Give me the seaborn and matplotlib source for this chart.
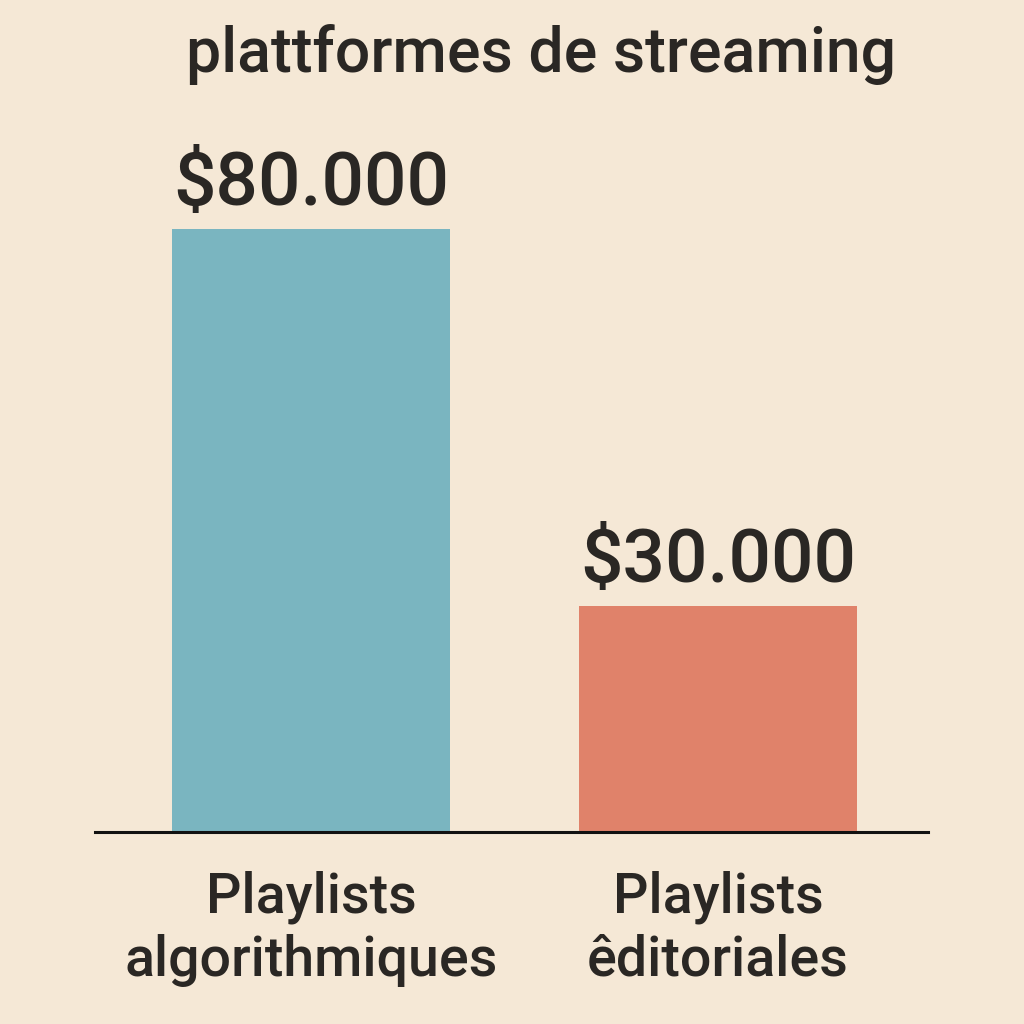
import pandas as pd
import seaborn as sns
import matplotlib.pyplot as plt

categories = ['Playlists\nalgorithmiques', 'Playlists\nêditoriales']
revenues = [80000, 30000]
value_labels = ['$80.000', '$30.000']
colors = ['#7AB5C0', '#E0826A']

sns.set_theme(style="white")
plt.rcParams['font.family'] = ['Roboto', 'Open Sans', 'DejaVu Sans']
ink = '#2A2724'
bg = '#F5E8D6'

df = pd.DataFrame({'category': categories, 'revenue': revenues})

fig = plt.figure(figsize=(10.24, 10.24), dpi=100, facecolor=bg)
ax = fig.add_axes([0.0928, 0.1875, 0.8135, 0.5889])
ax.set_facecolor(bg)
sns.barplot(data=df, x='category', y='revenue', hue='category',
            palette=colors, width=0.683, saturation=1, legend=False,
            linewidth=0, ax=ax)

ax.set_xlim(-0.531, 1.516)
ax.set_ylim(0, 80000)
for s in ['top', 'right', 'left']:
    ax.spines[s].set_visible(False)
ax.spines['bottom'].set_color('#111111')
ax.spines['bottom'].set_linewidth(2.2)
ax.set_yticks([])
ax.set_xlabel('')
ax.set_ylabel('')
ax.tick_params(axis='x', length=0, pad=28, labelsize=40, labelcolor=ink)
for t in ax.get_xticklabels():
    t.set_linespacing(1.22)
    t.set_fontweight('medium')

for i, (v, lab) in enumerate(zip(revenues, value_labels)):
    ax.annotate(lab, (i, v), xytext=(0, 17), textcoords='offset points',
                ha='center', va='baseline', fontsize=54, fontweight='medium',
                color=ink, clip_on=False)

fig.text(0.528, 0.93, 'plattformes de streaming', ha='center', va='baseline',
         fontsize=45, fontweight='medium', color=ink)

fig.savefig('out.png', dpi=100, facecolor=bg)
